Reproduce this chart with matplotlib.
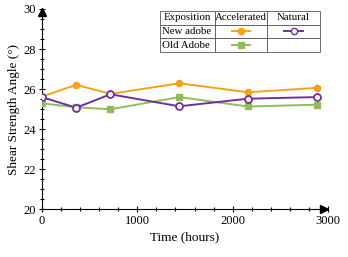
import matplotlib.pyplot as plt
from matplotlib.lines import Line2D
from matplotlib.ticker import MultipleLocator

plt.rcParams['font.family'] = ['Liberation Serif', 'DejaVu Serif']

# Tempo de exposição (horas)
tempo = [0, 360, 720, 1440, 2160, 2880]
novo_acelerado = [25.62, 26.21, 25.76, 26.29, 25.84, 26.06]
novo_natural = [25.60, 25.07, 25.74, 25.14, 25.52, 25.60]
antigo_acelerado = [25.29, 25.09, 24.99, 25.60, 25.13, 25.22]

laranja = '#F5A21B'
roxo = '#7030A0'
verde = '#92BC5C'

fig = plt.figure(figsize=(3.48, 2.57), dpi=100)
ax = fig.add_axes([0.12, 0.186, 0.823, 0.779])

ax.plot(tempo, antigo_acelerado, color=verde, lw=1.4, marker='s', ms=4.5, zorder=3)
ax.plot(tempo, novo_acelerado, color=laranja, lw=1.4, marker='o', ms=4.5, zorder=4)
ax.plot(tempo, novo_natural, color=roxo, lw=1.4, marker='o', ms=5, mfc='white',
        mec=roxo, mew=1.3, zorder=5)

ax.set_xlim(0, 3000)
ax.set_ylim(20, 30)
ax.xaxis.set_major_locator(MultipleLocator(1000))
ax.xaxis.set_minor_locator(MultipleLocator(200))
ax.yaxis.set_major_locator(MultipleLocator(2))
ax.yaxis.set_minor_locator(MultipleLocator(0.5))
ax.tick_params(which='major', direction='inout', length=5, width=0.8, labelsize=9, pad=2)
ax.tick_params(which='minor', direction='inout', length=3, width=0.8)
ax.spines['top'].set_visible(False)
ax.spines['right'].set_visible(False)
ax.spines['left'].set_linewidth(0.8)
ax.spines['bottom'].set_linewidth(0.8)

# setas nos eixos
ax.plot(0.985, 0, '>', color='black', ms=6, transform=ax.transAxes, clip_on=False, zorder=6)
ax.plot(0, 0.985, '^', color='black', ms=6, transform=ax.transAxes, clip_on=False, zorder=6)

ax.set_xlabel('Time (hours)', fontsize=9.5, labelpad=3)
ax.set_ylabel('Shear Strength Angle (°)', fontsize=9.5, labelpad=2)

# tabela de legenda
tabela = ax.table(cellText=[['Exposition', 'Accelerated', 'Natural'],
                            ['New adobe', '', ''],
                            ['Old Adobe', '', '']],
                  cellLoc='center', bbox=[0.413, 0.784, 0.559, 0.206],
                  colWidths=[55, 52, 53])
tabela.auto_set_font_size(False)
for (r, c), cell in tabela.get_celld().items():
    cell.set_linewidth(0.6)
    cell.set_edgecolor('#555555')
    cell.get_text().set_fontsize(7.8)
    cell.PAD = 0.03
    if c == 0 and r > 0:
        cell.get_text().set_ha('left')
        cell._loc = 'left'


def amostra(xc, yc, cor, marca, mfc):
    ax.add_line(Line2D([xc - 0.032, xc, xc + 0.032], [yc, yc, yc], color=cor, lw=1.4,
                       marker=marca, markevery=[1], ms=4.5, mfc=mfc, mec=cor,
                       transform=ax.transAxes, clip_on=False, zorder=7))


amostra(0.696, 0.889, laranja, 'o', laranja)
amostra(0.879, 0.889, roxo, 'o', 'white')
amostra(0.696, 0.819, verde, 's', verde)

fig.savefig('out.png', dpi=100)
